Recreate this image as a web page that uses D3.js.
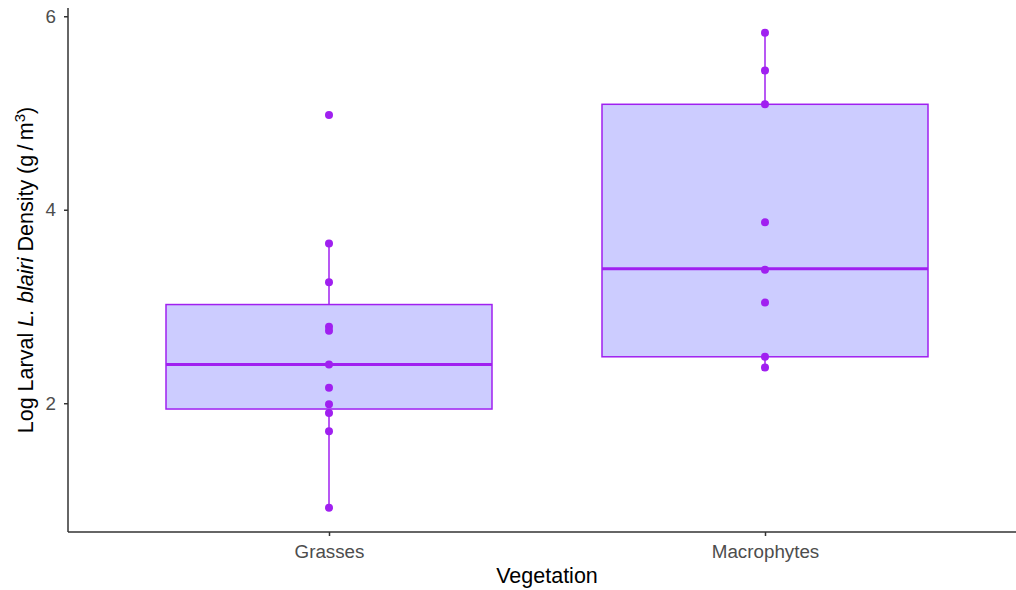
<!DOCTYPE html>
<html>
<head>
<meta charset="utf-8">
<script src="https://cdn.jsdelivr.net/npm/d3@7"></script>
<style>
  body { margin: 0; background: #fff; }
  text { font-family: "Liberation Sans", Arial, sans-serif; }
</style>
</head>
<body>
<div id="chart"></div>
<script>
// categories and values
var groups = ["Grasses", "Macrophytes"];
var grassesValues = [4.98, 3.65, 3.25, 2.79, 2.75, 2.40, 2.16, 1.99, 1.90, 1.71, 0.92];
var macroValues = [5.83, 5.44, 5.09, 3.87, 3.38, 3.04, 2.48, 2.37];
// box statistics (lower whisker, q1, median, q3, upper whisker)
var whiskerLow = [0.92, 2.37];
var q1 = [1.94, 2.48];
var medians = [2.40, 3.39];
var q3 = [3.02, 5.09];
var whiskerHigh = [3.65, 5.83];
var yTicks = [2, 4, 6];

var width = 1016, height = 590;
var purple = "#a020f0", boxFill = "#ccccff";

var svg = d3.select("#chart").append("svg")
    .attr("width", width)
    .attr("height", height);

// ggplot style ranges: 5% expansion on y
var y_scale = d3.scaleLinear()
    .domain([0.674, 6.075])
    .range([531.5, 9]);

var x_scale = d3.scalePoint()
    .domain(groups)
    .range([329, 765]);

var boxWidth = 326;

var stats = groups.map(function(g, i) {
    return {group: g, lo: whiskerLow[i], q1: q1[i], med: medians[i], q3: q3[i], hi: whiskerHigh[i]};
});
var points = [];
grassesValues.forEach(function(v) { points.push({group: "Grasses", value: v}); });
macroValues.forEach(function(v) { points.push({group: "Macrophytes", value: v}); });

// whiskers
svg.selectAll("line.whiskerlow")
    .data(stats)
    .enter()
    .append("line")
    .attr("x1", function(d) { return x_scale(d.group); })
    .attr("x2", function(d) { return x_scale(d.group); })
    .attr("y1", function(d) { return y_scale(d.lo); })
    .attr("y2", function(d) { return y_scale(d.q1); })
    .attr("stroke", purple)
    .attr("stroke-width", 1.5);

svg.selectAll("line.whiskerhigh")
    .data(stats)
    .enter()
    .append("line")
    .attr("x1", function(d) { return x_scale(d.group); })
    .attr("x2", function(d) { return x_scale(d.group); })
    .attr("y1", function(d) { return y_scale(d.q3); })
    .attr("y2", function(d) { return y_scale(d.hi); })
    .attr("stroke", purple)
    .attr("stroke-width", 1.5);

// boxes
svg.selectAll("rect.box")
    .data(stats)
    .enter()
    .append("rect")
    .attr("x", function(d) { return x_scale(d.group) - boxWidth / 2; })
    .attr("y", function(d) { return y_scale(d.q3); })
    .attr("width", boxWidth)
    .attr("height", function(d) { return y_scale(d.q1) - y_scale(d.q3); })
    .attr("fill", boxFill)
    .attr("stroke", purple)
    .attr("stroke-width", 1.5);

// medians
svg.selectAll("line.median")
    .data(stats)
    .enter()
    .append("line")
    .attr("x1", function(d) { return x_scale(d.group) - boxWidth / 2; })
    .attr("x2", function(d) { return x_scale(d.group) + boxWidth / 2; })
    .attr("y1", function(d) { return y_scale(d.med); })
    .attr("y2", function(d) { return y_scale(d.med); })
    .attr("stroke", purple)
    .attr("stroke-width", 3);

// points
svg.selectAll("circle.pt")
    .data(points)
    .enter()
    .append("circle")
    .attr("cx", function(d) { return x_scale(d.group); })
    .attr("cy", function(d) { return y_scale(d.value); })
    .attr("r", 4)
    .attr("fill", purple);

// axes
var y_axis = svg.append("g")
    .attr("transform", "translate(68,0)")
    .call(d3.axisLeft(y_scale).tickValues(yTicks).tickFormat(d3.format("d")).tickSize(4).tickPadding(8));

var x_axis = svg.append("g")
    .attr("transform", "translate(0,532)")
    .call(d3.axisBottom(x_scale).tickSize(4).tickPadding(9));

x_axis.select(".domain").attr("d", "M68,0H1016");
y_axis.select(".domain").attr("d", "M0,8V532");

[y_axis, x_axis].forEach(function(g) {
    g.select(".domain").attr("stroke", "#333").attr("stroke-width", 1.5);
    g.selectAll(".tick line").attr("stroke", "#333").attr("stroke-width", 1.5);
    g.selectAll(".tick text")
        .attr("fill", "#4d4d4d")
        .style("font-size", "18.8px")
        .style("font-family", "Liberation Sans, Arial, sans-serif");
});

// axis titles
svg.append("text")
    .attr("x", 547)
    .attr("y", 583)
    .attr("text-anchor", "middle")
    .style("font-size", "21.5px")
    .attr("fill", "black")
    .text("Vegetation");

var ytitle = svg.append("text")
    .attr("transform", "translate(33,270) rotate(-90)")
    .attr("text-anchor", "middle")
    .style("font-size", "21.5px")
    .attr("fill", "black");
ytitle.append("tspan").text("Log Larval ");
ytitle.append("tspan").style("font-style", "italic").text("L. blairi");
ytitle.append("tspan").text(" Density (g\u2009/\u2009m");
ytitle.append("tspan").attr("dy", -8).style("font-size", "15px").text("3");
ytitle.append("tspan").attr("dy", 8).text(")");
</script>
</body>
</html>
